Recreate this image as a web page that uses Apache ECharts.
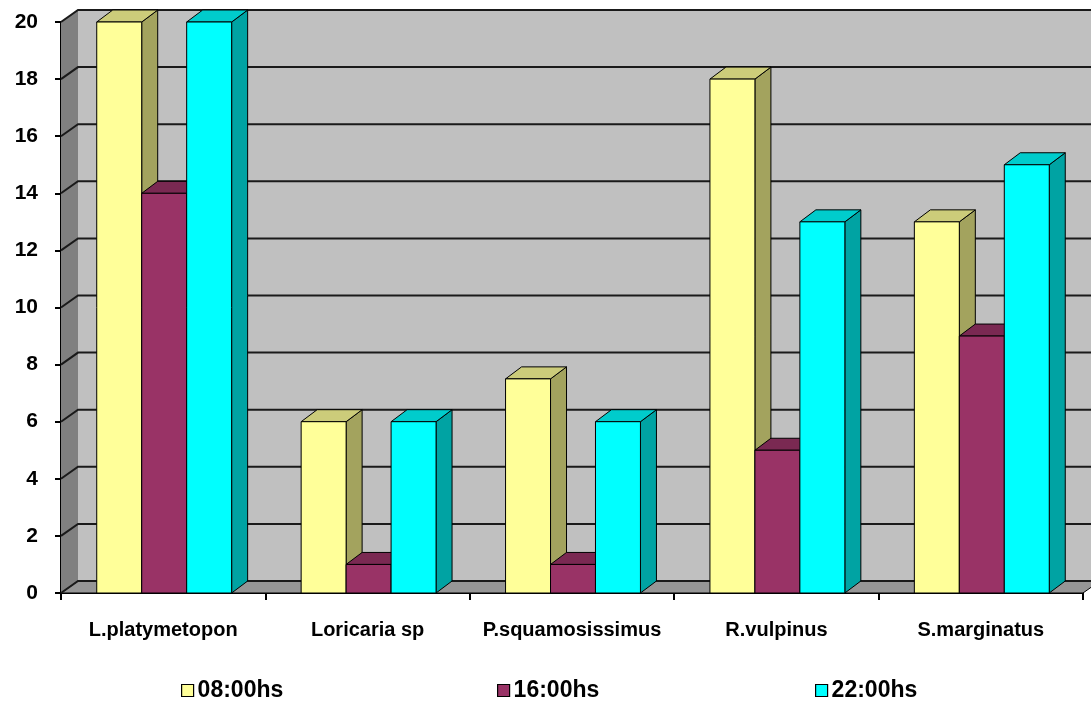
<!DOCTYPE html>
<html>
<head>
<meta charset="utf-8">
<script src="https://cdn.jsdelivr.net/npm/echarts@6/dist/echarts.min.js"></script>
<style>
  html, body { margin: 0; padding: 0; background: #ffffff; }
  #chart { width: 1091px; height: 701px; }
</style>
</head>
<body>
<div id="chart"></div>
<script>
// Species and sampling times
const categories = ['L.platymetopon', 'Loricaria sp', 'P.squamosissimus', 'R.vulpinus', 'S.marginatus'];
const seriesNames = ['08:00hs', '16:00hs', '22:00hs'];
const values0800 = [20, 6, 7.5, 18, 13];
const values1600 = [14, 1, 1, 5, 9];
const values2200 = [20, 6, 6, 13, 15];
const yTicks = [0, 2, 4, 6, 8, 10, 12, 14, 16, 18, 20];

// Face colours per series: front, top, side
const faceColors = [
  { front: '#FFFF99', top: '#CCCC7A', side: '#A3A35E' },
  { front: '#993366', top: '#7A2952', side: '#5C1F3D' },
  { front: '#00FFFF', top: '#00CCCC', side: '#00A3A3' }
];

const WALL_DX = 17, WALL_DY = 12;   // depth offset of the back wall
const BAR_DX = 16, BAR_DY = 12;     // depth offset of the columns
const FONT = '"Liberation Sans", Arial, sans-serif';

const chart = echarts.init(document.getElementById('chart'));

// Back wall, left wall, floor and gridlines
function renderWalls(params, api) {
  const cs = params.coordSys;
  const l = cs.x, r = cs.x + cs.width, t = cs.y, b = cs.y + cs.height;
  const children = [];
  children.push({ type: 'rect', shape: { x: l + WALL_DX, y: t - WALL_DY, width: cs.width + 20, height: cs.height },
    style: { fill: '#C0C0C0' } });
  children.push({ type: 'polygon', shape: { points: [[l, t], [l + WALL_DX, t - WALL_DY], [l + WALL_DX, b - WALL_DY], [l, b]] },
    style: { fill: '#808080' } });
  children.push({ type: 'polygon', shape: { points: [[l, b], [l + WALL_DX, b - WALL_DY], [r + WALL_DX, b - WALL_DY], [r, b]] },
    style: { fill: '#969696', stroke: '#000', lineWidth: 1 } });
  yTicks.forEach(function (v) {
    const y = api.coord([0, v])[1];
    children.push({ type: 'polyline', shape: { points: [[l, y], [l + WALL_DX, y - WALL_DY], [r + WALL_DX + 20, y - WALL_DY]] },
      style: { stroke: '#1a1a1a', lineWidth: 2, fill: null } });
  });
  return { type: 'group', children: children };
}

// 3D column: side face, top face, then front face
function makeBarRenderer(k) {
  return function (params, api) {
    const ci = api.value(0), v = api.value(1);
    const base = api.coord([ci, 0]);
    const top = api.coord([ci, v]);
    const band = api.size([1, 0])[0];
    const w = band * 0.22;
    const x0 = base[0] - 1.5 * w + k * w + 1;
    const x1 = x0 + w;
    const yb = base[1], yt = top[1];
    const c = faceColors[k];
    const edge = { stroke: '#000', lineWidth: 1, lineJoin: 'round' };
    return {
      type: 'group',
      children: [
        { type: 'polygon', shape: { points: [[x1, yt], [x1 + BAR_DX, yt - BAR_DY], [x1 + BAR_DX, yb - BAR_DY], [x1, yb]] },
          style: Object.assign({ fill: c.side }, edge) },
        { type: 'polygon', shape: { points: [[x0, yt], [x0 + BAR_DX, yt - BAR_DY], [x1 + BAR_DX, yt - BAR_DY], [x1, yt]] },
          style: Object.assign({ fill: c.top }, edge) },
        { type: 'rect', shape: { x: x0, y: yt, width: w, height: yb - yt },
          style: Object.assign({ fill: c.front }, edge) }
      ]
    };
  };
}

const allValues = [values0800, values1600, values2200];

const barSeries = allValues.map(function (vals, k) {
  return {
    type: 'custom',
    name: seriesNames[k],
    coordinateSystem: 'cartesian2d',
    renderItem: makeBarRenderer(k),
    encode: { x: 0, y: 1 },
    itemStyle: { color: faceColors[k].front },
    data: vals.map(function (v, i) { return [i, v]; }),
    z: 3
  };
});

function legendAt(name, left) {
  return {
    data: [name], left: left, top: 679, padding: 0, orient: 'horizontal',
    icon: 'rect', itemWidth: 12, itemHeight: 12, itemGap: 4,
    itemStyle: { borderColor: '#000', borderWidth: 1.2 },
    textStyle: { fontFamily: FONT, fontWeight: 'bold', fontSize: 23, color: '#000', padding: [0, 0, 0, -1] },
    selectedMode: false
  };
}

chart.setOption({
  animation: false,
  backgroundColor: '#ffffff',
  grid: { left: 61, right: 8, top: 22, bottom: 108, containLabel: false },
  xAxis: {
    type: 'category',
    data: categories,
    boundaryGap: true,
    axisLine: { lineStyle: { color: '#000', width: 2 } },
    axisTick: { show: true, length: 7, lineStyle: { color: '#000', width: 2 } },
    axisLabel: { fontFamily: FONT, fontWeight: 'bold', fontSize: 20, color: '#000', margin: 27, interval: 0 },
    splitLine: { show: false }
  },
  yAxis: {
    type: 'value',
    min: 0, max: 20, interval: 2,
    axisLine: { show: true, lineStyle: { color: '#000', width: 2 } },
    axisTick: { show: true, length: 6, lineStyle: { color: '#000', width: 2 } },
    axisLabel: { fontFamily: FONT, fontWeight: 'bold', fontSize: 21, color: '#000', margin: 23 },
    splitLine: { show: false }
  },
  legend: [legendAt(seriesNames[0], 181), legendAt(seriesNames[1], 497), legendAt(seriesNames[2], 815)],
  series: [{
    type: 'custom',
    name: 'walls',
    coordinateSystem: 'cartesian2d',
    renderItem: renderWalls,
    encode: { x: 0, y: 1 },
    data: [[0, 0]],
    silent: true,
    z: 1
  }].concat(barSeries)
});
</script>
</body>
</html>
